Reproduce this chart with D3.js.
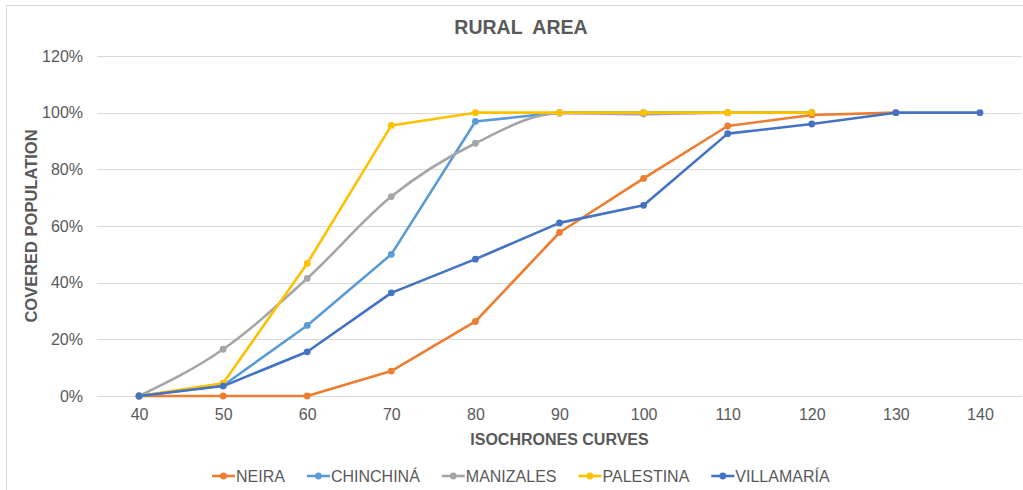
<!DOCTYPE html>
<html>
<head>
<meta charset="utf-8">
<script src="https://cdn.jsdelivr.net/npm/d3@7"></script>
<style>
  html, body { margin: 0; padding: 0; background: #fff; }
  svg { display: block; font-family: "Liberation Sans", Arial, sans-serif; }
</style>
</head>
<body>
<svg id="chart" width="1023" height="490"></svg>
<script>
// Isochrone minutes on the x axis
const minutes = [40, 50, 60, 70, 80, 90, 100, 110, 120, 130, 140];
const yTicks = [0, 0.2, 0.4, 0.6, 0.8, 1.0, 1.2];

// Share of rural population covered per municipality (fraction)
const neira      = [0, 0, 0, 0.088, 0.263, 0.577, 0.768, 0.953, 0.992, 1.0];
const chinchina  = [0, 0.037, 0.249, 0.500, 0.969, 1.0, 1.0, 1.0, 1.0];
const manizales  = [0, 0.165, 0.415, 0.704, 0.892, 0.998, 0.995, 1.0, 1.0];
const palestina  = [0, 0.045, 0.468, 0.955, 1.0, 1.0, 1.0, 1.0, 1.0];
const villamaria = [0, 0.035, 0.156, 0.364, 0.483, 0.611, 0.673, 0.926, 0.960, 1.0, 1.0];

const seriesNames = ["NEIRA", "CHINCHINÁ", "MANIZALES", "PALESTINA", "VILLAMARÍA"];
const seriesValues = [neira, chinchina, manizales, palestina, villamaria];
const seriesColors = ["#ED7D31", "#5B9BD5", "#A5A5A5", "#FFC000", "#4472C4"];
const seriesSmooth = [false, false, true, false, false];

const svg = d3.select("#chart");
const textColor = "#595959";
const gridColor = "#d9d9d9";
const fontFamily = "Liberation Sans, Arial, sans-serif";

// outer chart frame
svg.append("rect")
  .attr("x", 6.5).attr("y", 5.5)
  .attr("width", 1040).attr("height", 500)
  .attr("fill", "none").attr("stroke", gridColor).attr("stroke-width", 1);

const plot = { left: 97, right: 1022, top: 56, bottom: 396 };

const x = d3.scalePoint()
  .domain(minutes)
  .range([plot.left, plot.right])
  .padding(0.5);

const y = d3.scaleLinear()
  .domain([0, 1.2])
  .range([plot.bottom, plot.top]);

// horizontal gridlines
svg.append("g")
  .selectAll("line")
  .data(yTicks)
  .join("line")
  .attr("x1", plot.left).attr("x2", plot.right)
  .attr("y1", d => Math.round(y(d)) + 0.5)
  .attr("y2", d => Math.round(y(d)) + 0.5)
  .attr("stroke", gridColor)
  .attr("stroke-width", 1);

// y axis labels
const yAxis = d3.axisLeft(y)
  .tickValues(yTicks)
  .tickFormat(d3.format(".0%"))
  .tickSize(0)
  .tickPadding(0);
svg.append("g")
  .attr("transform", `translate(${plot.left - 14},0)`)
  .call(yAxis)
  .call(g => g.select(".domain").remove())
  .call(g => g.selectAll("text")
    .attr("fill", textColor)
    .attr("font-size", 16)
    .attr("font-family", fontFamily));

// x axis labels
const xAxis = d3.axisBottom(x).tickSize(0).tickPadding(0);
svg.append("g")
  .attr("transform", `translate(0,${plot.bottom + 13})`)
  .call(xAxis)
  .call(g => g.select(".domain").remove())
  .call(g => g.selectAll("text")
    .attr("fill", textColor)
    .attr("font-size", 16)
    .attr("font-family", fontFamily));

// series lines and markers
seriesValues.forEach((vals, i) => {
  const pts = vals.map((v, j) => [minutes[j], v]);
  const line = d3.line()
    .x(d => x(d[0]))
    .y(d => y(d[1]))
    .curve(seriesSmooth[i] ? d3.curveMonotoneX : d3.curveLinear);
  svg.append("path")
    .datum(pts)
    .attr("d", line)
    .attr("fill", "none")
    .attr("stroke", seriesColors[i])
    .attr("stroke-width", 2.6)
    .attr("stroke-linejoin", "round")
    .attr("stroke-linecap", "round");
  svg.append("g")
    .selectAll("circle")
    .data(pts)
    .join("circle")
    .attr("cx", d => x(d[0]))
    .attr("cy", d => y(d[1]))
    .attr("r", 3.4)
    .attr("fill", seriesColors[i]);
});

// title
svg.append("text")
  .attr("x", 521).attr("y", 34)
  .attr("text-anchor", "middle")
  .attr("fill", textColor)
  .attr("font-size", 19.5)
  .attr("font-weight", "bold")
  .style("white-space", "pre")
  .text("RURAL  AREA");

// axis titles
svg.append("text")
  .attr("x", (plot.left + plot.right) / 2).attr("y", 445)
  .attr("text-anchor", "middle")
  .attr("fill", textColor)
  .attr("font-size", 16)
  .attr("font-weight", "bold")
  .text("ISOCHRONES CURVES");

svg.append("text")
  .attr("transform", `translate(37,${(plot.top + plot.bottom) / 2}) rotate(-90)`)
  .attr("text-anchor", "middle")
  .attr("fill", textColor)
  .attr("font-size", 16.5)
  .attr("font-weight", "bold")
  .text("COVERED POPULATION");

// legend
const legend = svg.append("g").attr("transform", "translate(0,476)");
let lx = 212;
seriesNames.forEach((name, i) => {
  const item = legend.append("g").attr("transform", `translate(${lx},0)`);
  item.append("line")
    .attr("x1", 0).attr("x2", 23)
    .attr("y1", 0).attr("y2", 0)
    .attr("stroke", seriesColors[i]).attr("stroke-width", 2.6);
  item.append("circle")
    .attr("cx", 11.5).attr("cy", 0).attr("r", 3.4)
    .attr("fill", seriesColors[i]);
  const t = item.append("text")
    .attr("x", 24).attr("y", 5.8)
    .attr("fill", textColor)
    .attr("font-size", 16)
    .text(name);
  lx += 24 + t.node().getComputedTextLength() + 22;
});
</script>
</body>
</html>
